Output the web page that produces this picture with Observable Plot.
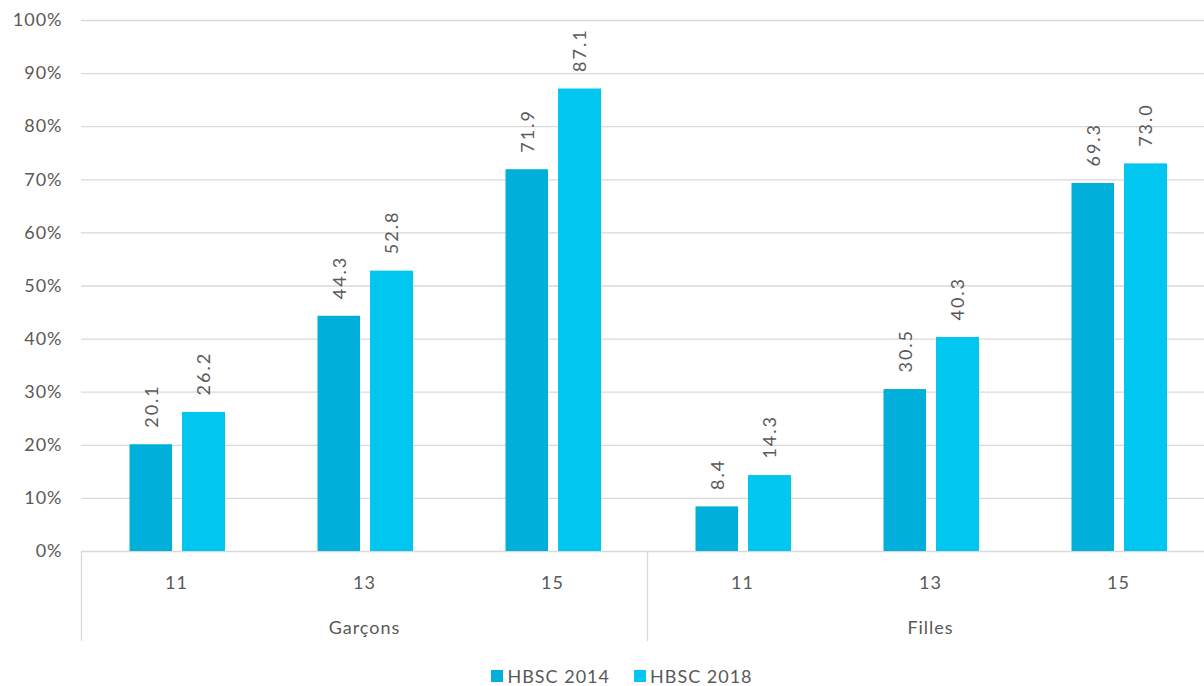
<!DOCTYPE html>
<html><head><meta charset="utf-8">
<script src="https://cdn.jsdelivr.net/npm/d3@7"></script>
<script src="https://cdn.jsdelivr.net/npm/@observablehq/plot@0.6"></script>
<style>
html,body{margin:0;padding:0;overflow:hidden;background:#fff;}
body{width:1204px;height:686px;font-family:Lato,"Open Sans",sans-serif;}
#chart{width:1204px;overflow:hidden;}
#chart svg{display:block;max-width:none !important;}
#chart svg g[aria-label="text"]{letter-spacing:2px;}
#legend{display:flex;justify-content:center;align-items:center;gap:24px;width:1164px;padding-left:40px;height:26px;margin-top:3px;color:#595959;font-size:18px;letter-spacing:1px;}
#legend .item{display:flex;align-items:center;gap:4px;}
#legend .sw{width:12px;height:12px;display:inline-block;}
</style></head>
<body><div id="chart"></div><div id="legend"></div>
<script>
const groups = ["Garçons", "Filles"];
const ages = ["11", "13", "15"];
const series = ["HBSC 2014", "HBSC 2018"];
const values2014 = [20.1, 44.3, 71.9, 8.4, 30.5, 69.3];
const values2018 = [26.2, 52.8, 87.1, 14.3, 40.3, 73.0];
const yTicks = [0, 10, 20, 30, 40, 50, 60, 70, 80, 90, 100];
const colors = ["#00B0DA", "#00C6F0"];

function rows(vals, s) {
  const out = [];
  groups.forEach((g, gi) => ages.forEach((a, ai) => out.push({group: g, age: a, series: s, value: vals[gi * 3 + ai]})));
  return out;
}
const d2014 = rows(values2014, series[0]);
const d2018 = rows(values2018, series[1]);

const textColor = "#595959";
const fs = 18;

const chart = Plot.plot({
  width: 1213,
  height: 660,
  marginLeft: 81,
  marginRight: 0,
  marginTop: 20,
  marginBottom: 109,
  style: {fontFamily: "Lato, 'Open Sans', sans-serif", fontSize: fs + "px", color: textColor, background: "#fff", letterSpacing: "1px", maxWidth: "none"},
  fx: {domain: groups, padding: 0, label: null},
  x: {domain: ages, padding: 0, label: null},
  y: {domain: [0, 100], label: null},
  marks: [
    Plot.ruleY(yTicks, {stroke: "#d9d9d9", strokeWidth: 1.3}),
    Plot.frame({anchor: "left", stroke: "#d9d9d9", strokeWidth: 1.3, insetTop: 531, insetBottom: -89}),
    Plot.barY(d2014, {fx: "group", x: "age", y: "value", fill: colors[0], insetLeft: 47.5, insetRight: 98}),
    Plot.barY(d2018, {fx: "group", x: "age", y: "value", fill: colors[1], insetLeft: 100, insetRight: 45}),
    Plot.text(d2014, {fx: "group", x: "age", y: "value", text: d => d.value.toFixed(1), rotate: -90, textAnchor: "start", dx: -24, dy: -17, fill: textColor, fontSize: fs}),
    Plot.text(d2018, {fx: "group", x: "age", y: "value", text: d => d.value.toFixed(1), rotate: -90, textAnchor: "start", dx: 28, dy: -17, fill: textColor, fontSize: fs}),
    Plot.axisY({ticks: yTicks, tickFormat: d => d + "%", tickSize: 0, tickPadding: 19, label: null, fill: textColor, fontSize: fs}),
    Plot.axisX({anchor: "bottom", tickSize: 0, tickPadding: 25, label: null, fill: textColor, fontSize: fs}),
    Plot.axisFx({anchor: "bottom", tickSize: 0, tickPadding: 70, label: null, fill: textColor, fontSize: fs})
  ]
});
document.getElementById("chart").appendChild(chart);

const legend = document.getElementById("legend");
series.forEach((s, i) => {
  const it = document.createElement("div");
  it.className = "item";
  const sw = document.createElement("span");
  sw.className = "sw";
  sw.style.background = colors[i];
  const t = document.createElement("span");
  t.textContent = s;
  it.appendChild(sw); it.appendChild(t);
  legend.appendChild(it);
});
</script>
</body></html>
